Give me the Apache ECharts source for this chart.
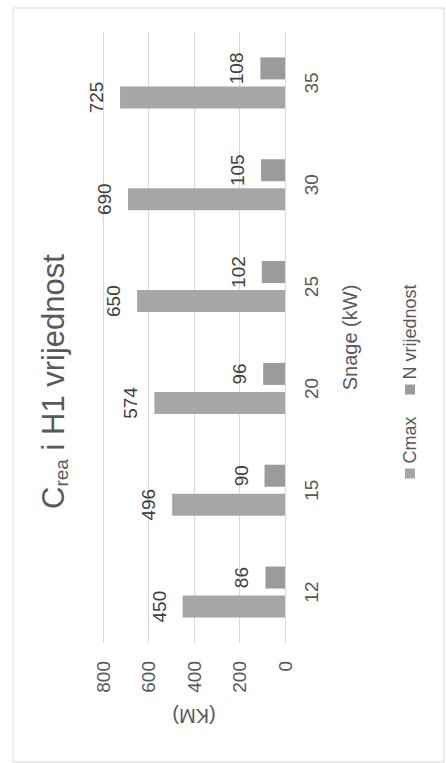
<!DOCTYPE html>
<html>
<head>
<meta charset="utf-8">
<script src="https://cdn.jsdelivr.net/npm/echarts@6/dist/echarts.min.js"></script>
<style>
  html, body { margin: 0; padding: 0; background: #ffffff; overflow: hidden; }
  #wrap {
    position: absolute; left: 0; top: 0;
    width: 763px; height: 446px;
    transform-origin: 0 0;
    transform: translate(0, 763px) rotate(-90deg);
  }
  #main { width: 763px; height: 446px; }
</style>
</head>
<body>
<div id="wrap"><div id="main"></div></div>
<script>
// ---- data ----
const categories = ['12', '15', '20', '25', '30', '35'];
const cmaxValues = [450, 496, 574, 650, 690, 725];
const nValues = [86, 90, 96, 102, 105, 108];
const seriesNames = ['Cmax', 'N vrijednost'];
const valueAxisMin = 0;
const valueAxisMax = 800;
const valueAxisStep = 200;
const xAxisTitle = 'Snage (kW)';
const yAxisTitle = '(KM)';

const FONT = '"Liberation Sans", Arial, sans-serif';
const chart = echarts.init(document.getElementById('main'), null, { renderer: 'svg', width: 763, height: 446 });

chart.setOption({
  backgroundColor: '#ffffff',
  animation: false,
  textStyle: { fontFamily: FONT },
  graphic: [{
    type: 'rect', silent: true, z: -10,
    shape: { x: 1, y: 13, width: 754, height: 431 },
    style: { fill: 'none', stroke: '#d9d9d9', lineWidth: 1 }
  }],
  title: {
    text: '{c|C}{s|rea}{c| i H1 vrijednost}',
    left: 'center',
    top: 30,
    textStyle: {
      fontWeight: 'normal',
      rich: {
        c: { fontSize: 31, lineHeight: 36, fontWeight: 'normal', color: '#595959', fontFamily: FONT },
        s: { fontSize: 19, lineHeight: 16, fontWeight: 'normal', verticalAlign: 'bottom', color: '#595959', fontFamily: FONT }
      }
    }
  },
  legend: {
    data: seriesNames,
    left: 'center',
    bottom: 22,
    icon: 'rect',
    itemWidth: 10,
    itemHeight: 10,
    itemGap: 22,
    textStyle: { fontSize: 18, color: '#595959', fontFamily: FONT }
  },
  grid: { left: 120, right: 32, top: 103, bottom: 161, containLabel: false },
  xAxis: {
    type: 'category',
    data: categories,
    axisTick: { show: false },
    axisLine: { show: true, lineStyle: { color: '#d9d9d9', width: 1 } },
    axisLabel: { fontSize: 19, color: '#595959', margin: 17, fontFamily: FONT },
    name: xAxisTitle,
    nameLocation: 'middle',
    nameGap: 55,
    nameTextStyle: { fontSize: 20, color: '#595959', fontFamily: FONT }
  },
  yAxis: {
    type: 'value',
    min: valueAxisMin,
    max: valueAxisMax,
    interval: valueAxisStep,
    axisLine: { show: false },
    axisTick: { show: false },
    splitLine: { show: true, lineStyle: { color: '#d9d9d9', width: 1 } },
    axisLabel: { fontSize: 19, color: '#595959', margin: 18, fontFamily: FONT },
    name: yAxisTitle,
    nameLocation: 'middle',
    nameRotate: 90,
    nameGap: 63,
    nameTextStyle: { fontSize: 20, color: '#595959', fontFamily: FONT }
  },
  series: [
    {
      name: seriesNames[0],
      type: 'bar',
      data: cmaxValues,
      barWidth: 22,
      barGap: '32%',
      itemStyle: { color: '#a6a6a6' },
      label: { show: true, position: 'top', distance: 14, fontSize: 19, color: '#404040', fontFamily: FONT }
    },
    {
      name: seriesNames[1],
      type: 'bar',
      data: nValues,
      barWidth: 22,
      barGap: '32%',
      itemStyle: { color: '#9b9b9b' },
      label: { show: true, position: 'top', distance: 14, fontSize: 19, color: '#404040', fontFamily: FONT }
    }
  ]
});
</script>
</body>
</html>
